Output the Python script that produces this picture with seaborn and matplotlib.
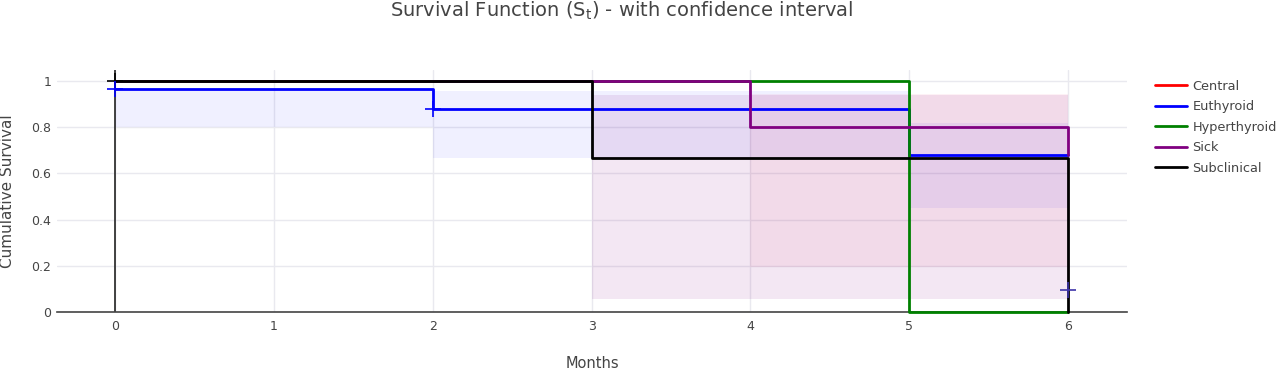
import matplotlib
matplotlib.use('Agg')
import matplotlib.pyplot as plt
import seaborn as sns
from matplotlib.lines import Line2D

# survival steps per group
groups = ['Central', 'Euthyroid', 'Hyperthyroid', 'Sick', 'Subclinical']
colors = ['red', 'blue', 'green', 'purple', 'black']

central_t = [0, 4]
central_s = [1.0, 1.0]
euthyroid_t = [0, 2, 5, 6]
euthyroid_s = [0.965, 0.88, 0.68, 0.68]
hyper_t = [0, 5, 6]
hyper_s = [1.0, 0.0, 0.0]
sick_t = [0, 4, 6]
sick_s = [1.0, 0.8, 0.68]
subclin_t = [0, 3, 6]
subclin_s = [1.0, 0.667, 0.0]

# confidence bands
euthyroid_ci_t = [0, 2, 5, 6]
euthyroid_ci_lo = [0.80, 0.667, 0.45, 0.45]
euthyroid_ci_hi = [0.96, 0.955, 0.82, 0.82]
sick_ci_t = [4, 6]
sick_ci_lo = [0.195, 0.195]
sick_ci_hi = [0.945, 0.945]
subclin_ci_t = [3, 6]
subclin_ci_lo = [0.056, 0.056]
subclin_ci_hi = [0.94, 0.94]

# censor marks
censor_x = [0, 0, 2, 6]
censor_y = [1.0, 0.965, 0.88, 0.095]
censor_c = ['black', 'blue', 'blue', '#3d33a8']

sns.set_style('white')
plt.rcParams['font.family'] = ['DejaVu Sans']
txt = '#444444'

fig = plt.figure(figsize=(12.8, 3.7), dpi=100)
ax = fig.add_axes([57 / 1280, 1 - 312 / 370, (1127 - 57) / 1280, (312 - 70) / 370])

# bands first
ax.fill_between(euthyroid_ci_t, euthyroid_ci_lo, euthyroid_ci_hi, step='post',
                color=(0, 0, 1, 0.06), lw=0)
ax.fill_between(subclin_ci_t, subclin_ci_lo, subclin_ci_hi, step='post',
                color=(0.5, 0, 0.5, 0.095), lw=0)
ax.fill_between(sick_ci_t, sick_ci_lo, sick_ci_hi, step='post',
                color=(0.9, 0.1, 0.35, 0.06), lw=0)

ax.axvline(0, color='#222222', lw=1.2, zorder=1)

series = [(central_t, central_s), (euthyroid_t, euthyroid_s), (hyper_t, hyper_s),
          (sick_t, sick_s), (subclin_t, subclin_s)]
for (t, s), c in zip(series, colors):
    sns.lineplot(x=t, y=s, ax=ax, color=c, lw=2, drawstyle='steps-post',
                 estimator=None, zorder=3, clip_on=False)

for x, y, c in zip(censor_x, censor_y, censor_c):
    ax.plot(x, y, marker='+', ms=11, mew=1.2, color=c, zorder=4, ls='none', clip_on=False)

ax.set_xlim(-0.365, 6.37)
ax.set_ylim(0, 1.048)
ax.set_xticks(range(0, 7))
ax.set_yticks([0, 0.2, 0.4, 0.6, 0.8, 1])
ax.set_yticklabels(['0', '0.2', '0.4', '0.6', '0.8', '1'])
ax.grid(True, color='#e9e9ef', lw=1)
ax.set_axisbelow(True)
for side in ['top', 'right', 'left']:
    ax.spines[side].set_visible(False)
ax.spines['bottom'].set_color('#444444')
ax.spines['bottom'].set_linewidth(1.2)
ax.spines['bottom'].set_zorder(2)
ax.tick_params(length=0, labelsize=9, colors=txt)
ax.tick_params(axis='x', pad=6)
ax.tick_params(axis='y', pad=4)

ax.set_xlabel('Months', fontsize=10.5, color=txt, labelpad=16)
ax.set_ylabel('Cumulative Survival', fontsize=11, color=txt, labelpad=12)

fig.text(0.486, 0.972, r'Survival Function ($\mathregular{S_t}$) - with confidence interval',
         ha='center', va='center', fontsize=14, color=txt)

handles = [Line2D([], [], color=c, lw=2) for c in colors]
fig.legend(handles, groups, loc='upper left', bbox_to_anchor=(1155 / 1280, 1 - 80 / 370),
           frameon=False, fontsize=9.3, handlelength=2.5, handletextpad=0.4,
           labelspacing=0.58, borderpad=0, borderaxespad=0, labelcolor=txt)

fig.savefig('out.png', dpi=100)
